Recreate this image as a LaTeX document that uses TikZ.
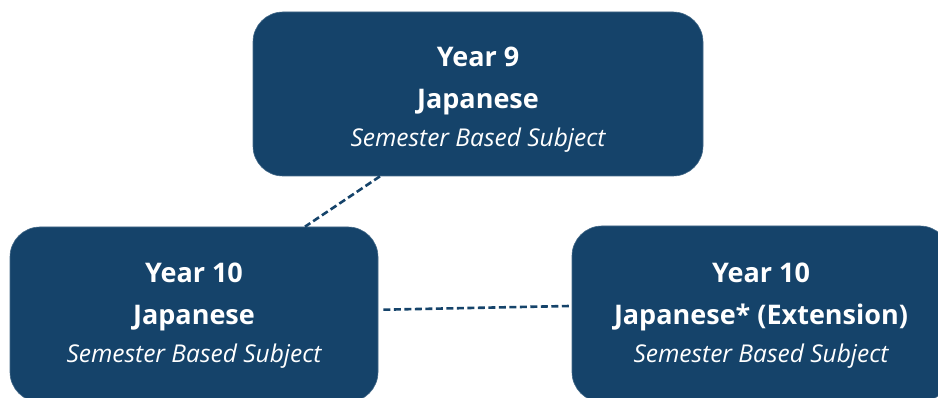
\documentclass[tikz,border=0pt]{standalone}
\usepackage{fontspec}
\setmainfont{Open Sans}
\usetikzlibrary{calc}
\definecolor{boxblue}{RGB}{21,67,106}
\tikzset{
  box/.style={fill=boxblue, draw=boxblue!80!white, line width=0.6pt, rounded corners=30pt,
    text=white, align=center, inner sep=0pt, text depth=0pt,
    font=\fontsize{27}{42}\selectfont\bfseries},
  link/.style={draw=boxblue, line width=2.6pt, dash pattern=on 7pt off 3.5pt}
}
\newcommand{\subj}{\\[-4pt]{\fontsize{24.5}{28}\selectfont\mdseries\itshape Semester Based Subject}}
\begin{document}
\begin{tikzpicture}[x=1pt,y=-1pt]
\useasboundingbox (0,0) rectangle (938,398);
\node[box, minimum width=450pt, minimum height=164pt, text height=106pt] (y9) at (478,94) {Year 9\\Japanese\subj};
\node[box, minimum width=368pt, minimum height=175pt, text height=96pt] (y10) at (194,314.5) {Year 10\\Japanese\subj};
\node[box, minimum width=378pt, minimum height=176pt, text height=97pt] (y10x) at (761,314) {Year 10\\Japanese* (Extension)\subj};
\draw[link] ($(y9.south)+(-98,0)$) -- ($(y10.north)+(111,0)$);
\draw[link] ($(y10.east)+(5,-4.8)$) -- ($(y10x.west)+(-2,-8)$);
\end{tikzpicture}
\end{document}
